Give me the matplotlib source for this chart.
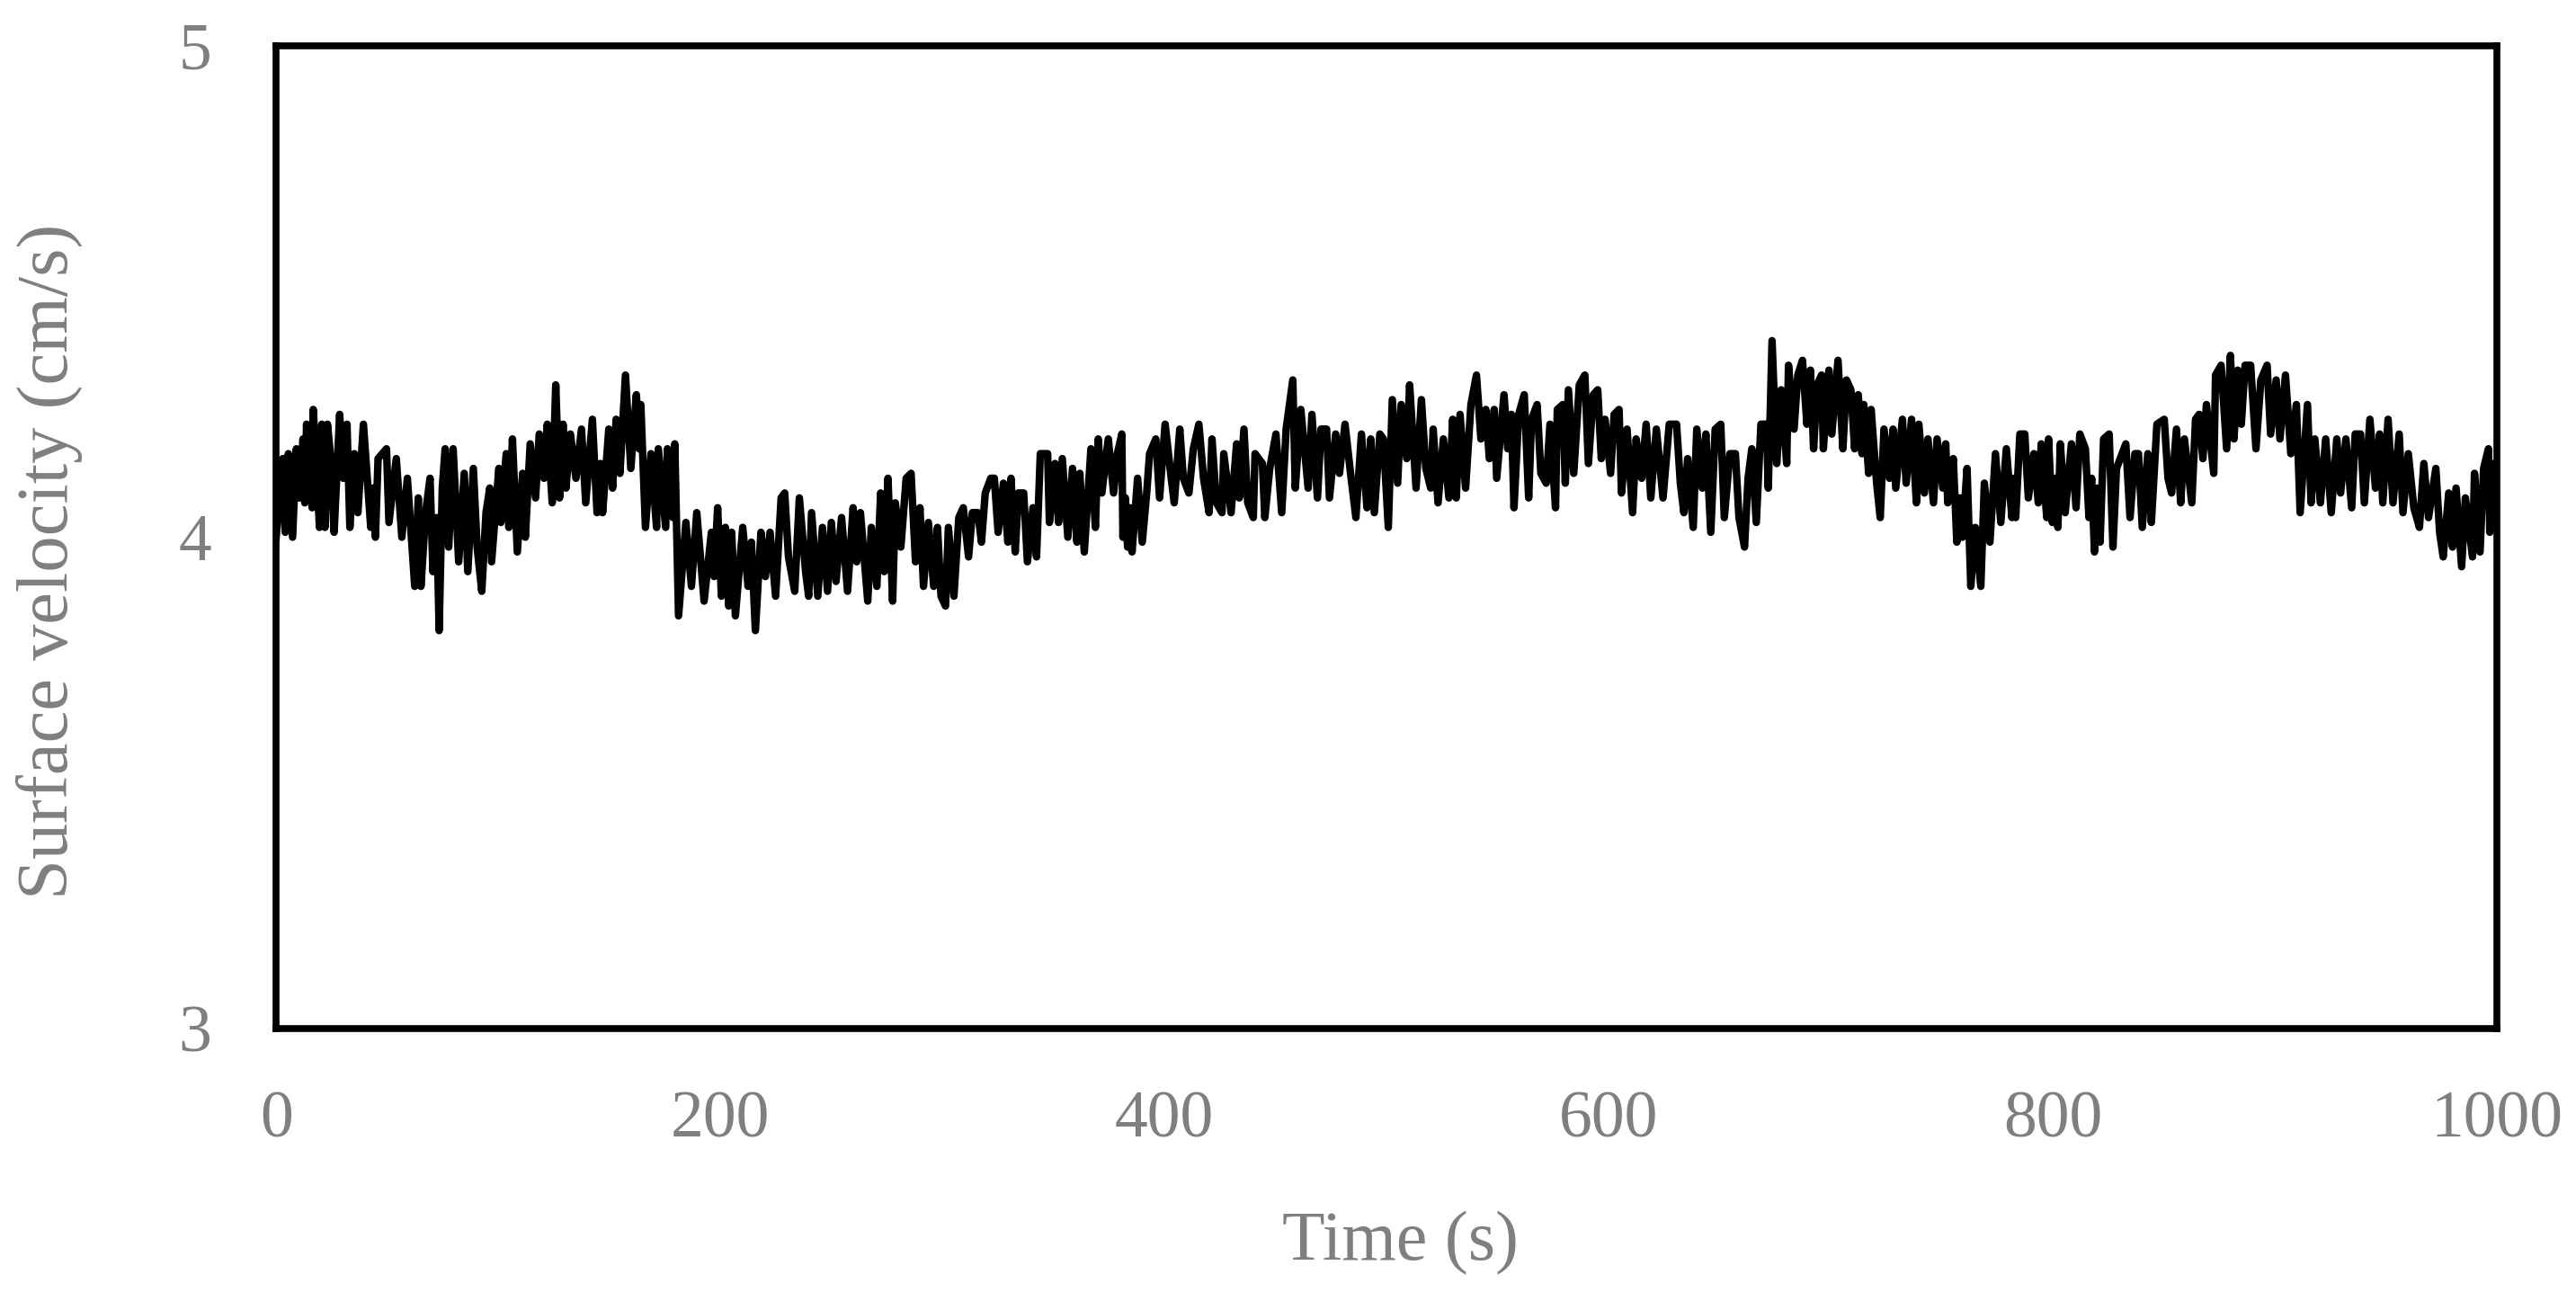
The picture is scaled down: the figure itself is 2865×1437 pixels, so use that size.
import matplotlib
matplotlib.use("Agg")
import matplotlib.pyplot as plt
import numpy as np

# ── Data: surface velocity record in four segments ───────────────────────────
time_a = [0, 3, 4.1, 5.5, 7.4, 9.1, 10.4, 12.1, 12.9, 13.7, 16.2, 16.7, 18.3, 19.5,
          20.6, 22, 23.1, 24.4, 26.1, 28.6, 30.2, 31.9, 33.2, 35.2, 36.8, 39.3, 42.6,
          43.6, 44.7, 45.9, 49.7, 50.8, 54.1, 56.6, 59.1, 62.4, 64, 65.2, 67.3, 69.3,
          70.6, 72.3, 73.4, 74.8, 76.1, 77.7, 79.7, 82.2, 84.7, 86.3, 88.8, 90.5, 92.6,
          94.5, 96.2, 97, 100.3, 101.2, 103.6, 104.8, 106.4, 108.6, 111, 112.2, 114.4,
          116.8, 118.5, 120.6, 122.1, 124.3, 125.9, 127.6, 129.2, 130.5, 132.5, 135,
          137.5, 139.4, 142.4, 144.5, 146, 147, 149.8, 151.5, 153.1, 154.8, 157.3, 159.7,
          162.2, 163.5, 164.2, 166.3, 168.8, 171.3, 172.1, 175.4, 176.2, 178.7, 179.5,
          181.2, 184.5, 187, 189.4, 192.7, 196, 197.2, 198.8, 200.5, 202.3, 203.8, 205.1,
          206.8, 210.1, 212.5, 214, 215.8, 218.3, 220.3, 222.4, 224.9, 227.4, 229, 230.7,
          233.5, 235.6, 238.4, 239.8, 241.1, 243.9, 246, 248.3, 250, 252.1, 254.6]
vel_a = [4.00, 4.16, 4.01, 4.17, 4.00, 4.18, 4.08, 4.20, 4.07, 4.23, 4.06, 4.26, 4.13, 4.02,
         4.23, 4.02, 4.23, 4.17, 4.01, 4.25, 4.12, 4.23, 4.02, 4.17, 4.05, 4.23, 4.02,
         4.10, 4.00, 4.16, 4.18, 4.03, 4.16, 4.00, 4.12, 3.90, 4.08, 3.90, 4.05, 4.12,
         3.93, 4.04, 3.81, 4.10, 4.18, 3.98, 4.18, 3.95, 4.13, 3.93, 4.14, 3.98, 3.89,
         4.05, 4.10, 3.95, 4.14, 4.03, 4.17, 4.02, 4.20, 3.97, 4.13, 4.00, 4.19,
         4.08, 4.21, 4.12, 4.23, 4.07, 4.31, 4.08, 4.23, 4.10, 4.21, 4.12,
         4.22, 4.07, 4.24, 4.05, 4.15, 4.05, 4.22, 4.10, 4.24, 4.13, 4.33, 4.14,
         4.29, 4.18, 4.27, 4.02, 4.17, 4.02, 4.18, 4.02, 4.18, 4.04, 4.19,
         3.84, 4.03, 3.90, 4.05, 3.87, 4.01, 3.92, 4.06, 3.88, 4.02, 3.86, 4.01,
         3.84, 4.02, 3.90, 3.99, 3.81, 4.01, 3.92, 4.01, 3.88, 4.08, 4.09, 3.96,
         3.89, 4.08, 3.93, 3.88, 4.05, 3.88, 4.02, 3.89, 4.03, 3.91, 4.04]

time_b = [257.3, 259.8, 261.4, 263.1, 266.4, 268, 270.5, 272.2, 273.8, 275.5, 277.6, 278.8,
          281.3, 283.7, 285.9, 287.9, 289.9, 291.5, 293.7, 296.1, 297.8, 299.4, 301.4,
          302.7, 305.2, 307.4, 309.4, 311.8, 313.5, 316, 317.6, 319.3, 321.8, 323.4,
          325.1, 327.5, 329.5, 330.9, 332.8, 334.2, 336.6, 338.3, 340.8, 342.4, 344.1,
          347.4, 348.2, 350.7, 352.3, 354, 356.5, 358.6, 360.6, 361.9, 363.9, 366.9,
          368.9, 370.2, 371.8, 374.7, 377.1, 378.8, 380.8, 381.3, 382.4, 383.4, 384.4,
          385.4, 387.9, 390, 392, 393.3, 396.1, 397.8, 400.3, 402.8, 404.4, 406.9, 408.5,
          411, 413, 415.5, 417.6, 420.1, 421.4, 423.4, 425.9, 426.7, 430, 432.5, 433.7,
          435.8, 437.5, 440, 440.8, 444.1, 445.2, 447.4, 450.2, 452.8, 454.8, 457.8,
          458.9, 461.4, 464.7, 466.4, 468.9, 470.5, 473, 474.3, 477.1, 478.8, 481.3,
          483.8, 486.2, 488.7, 491.2, 492.9, 494.5, 497, 498.6, 500.8]
vel_b = [3.89, 4.06, 3.95, 4.05, 3.87, 4.02, 3.90, 4.09, 3.93, 4.12, 3.87, 4.07,
         3.98, 4.12, 4.13, 3.95, 4.06, 3.90, 4.03, 3.90, 4.02, 3.88, 3.86,
         4.02, 3.88, 4.04, 4.06, 3.96, 4.05, 4.05, 3.99, 4.09, 4.12, 4.12,
         4.01, 4.11, 3.99, 4.12, 3.97, 4.09, 4.09, 3.95, 4.06, 3.96, 4.17,
         4.17, 4.03, 4.15, 4.03, 4.16, 4.00, 4.14, 3.99, 4.13, 3.97, 4.18,
         4.02, 4.20, 4.09, 4.20, 4.09, 4.17, 4.21, 4.00, 4.08, 3.98, 4.06,
         3.97, 4.12, 3.99, 4.09, 4.17, 4.20, 4.08, 4.23, 4.13, 4.07, 4.22, 4.12,
         4.09, 4.18, 4.23, 4.12, 4.05, 4.20, 4.07, 4.05, 4.17, 4.05, 4.19, 4.08,
         4.22, 4.07, 4.04, 4.17, 4.15, 4.04, 4.14, 4.21, 4.05, 4.22, 4.32,
         4.10, 4.26, 4.10, 4.25, 4.08, 4.22, 4.22, 4.08, 4.21, 4.13, 4.23,
         4.13, 4.04, 4.21, 4.06, 4.20, 4.05, 4.21, 4.20, 4.02]

time_c = [502.6, 505, 506.6, 509.1, 510.4, 513.3, 515.7, 517.7, 519.9, 521, 523.2, 525.6,
          528.1, 529.8, 531.4, 533.1, 535.6, 538, 540.5, 542.5, 544.7, 546.3, 548.5,
          549.6, 552.9, 554.6, 556.2, 557.4, 559.5, 562, 564, 565.3, 567.8, 569.5, 571.9,
          573.6, 576.1, 576.9, 579.4, 580.5, 581.9, 584.3, 586.8, 589.3, 590.9, 593.1,
          595.1, 596.7, 598.4, 600.9, 602.5, 604.7, 605.8, 608.3, 610.8, 612.4, 614.9,
          616.9, 619, 621.5, 624.5, 627.3, 630.6, 632.3, 633.9, 635.6, 638.1, 639.7,
          642.2, 643.8, 646, 648, 650.5, 652.1, 654.6, 657.1, 658.7, 661.2, 662.8, 664.5,
          666.5, 668.6, 671.1, 671.9, 673.6, 675.7, 677.7, 680.2, 681, 683.5, 685.2,
          687.3, 689.3, 690.9, 692.3, 693.9, 695.9, 696.7, 699.2, 700.5, 703.3, 705.5,
          707.1, 709.1, 710.8, 712.4, 714.1, 714.9, 717.1, 718.2, 720.7, 722.3, 724,
          726.5, 728.1, 729.3, 732.3, 734, 736.4, 738.6, 739.7, 742.2, 743.8, 746.3,
          747.9, 750.5]
vel_c = [4.28, 4.11, 4.27, 4.16, 4.31, 4.10, 4.28, 4.14, 4.10, 4.22, 4.07, 4.20,
         4.08, 4.24, 4.08, 4.25, 4.10, 4.27, 4.33, 4.20, 4.26, 4.16, 4.26,
         4.12, 4.29, 4.18, 4.25, 4.06, 4.25, 4.29, 4.08, 4.24, 4.27, 4.13, 4.11,
         4.23, 4.06, 4.26, 4.27, 4.11, 4.30, 4.13, 4.31, 4.33, 4.15, 4.29,
         4.30, 4.16, 4.24, 4.13, 4.25, 4.26, 4.09, 4.22, 4.05, 4.20, 4.12,
         4.23, 4.08, 4.22, 4.08, 4.23, 4.23, 4.11, 4.05, 4.16, 4.02, 4.22,
         4.10, 4.21, 4.01, 4.22, 4.23, 4.04, 4.17, 4.17, 4.04, 3.98, 4.12, 4.18,
         4.03, 4.23, 4.23, 4.10, 4.40, 4.15, 4.30, 4.15, 4.35, 4.22, 4.33,
         4.36, 4.23, 4.34, 4.18, 4.31, 4.33, 4.18, 4.34, 4.21, 4.36, 4.18,
         4.32, 4.30, 4.18, 4.29, 4.17, 4.27, 4.13, 4.26, 4.11, 4.04, 4.22,
         4.12, 4.22, 4.10, 4.24, 4.11, 4.24, 4.07, 4.23, 4.09, 4.20, 4.07,
         4.20, 4.10]

time_d = [751.8, 752.7, 755.2, 756.8, 758, 759.3, 761.4, 763.1, 765.1, 767.6, 769.2, 771.7,
          774.2, 776.6, 779.1, 781.6, 782.5, 783.3, 785.2, 787.4, 789, 791.5, 793.5,
          794.8, 797.3, 798.1, 799.8, 801, 802.3, 803.4, 805.6, 808.4, 810.5, 812.2,
          814.7, 816.3, 817.5, 818.8, 820, 821.3, 822.9, 825.4, 827.1, 828.7, 831.2,
          832.9, 834.8, 837, 838.6, 840.3, 842.8, 844.4, 846.9, 850.2, 851.9, 853.5,
          855.7, 857.6, 859.3, 862.6, 864.3, 865.9, 867.6, 869.2, 872.5, 873.3, 875.8,
          878.3, 880, 881.6, 883.3, 884.9, 886.6, 889.1, 891.5, 893.7, 896.5, 898.1,
          900.6, 902.3, 904.8, 907.2, 909.7, 911.4, 914.7, 916.3, 918, 920.5, 922.9,
          925.4, 927.9, 929.6, 932, 934.6, 936.2, 938.6, 940.3, 942.8, 945.3, 947.2,
          948.6, 951, 953.2, 956, 957.7, 960.1, 962.6, 965.1, 967.1, 969.2, 972.5,
          974.2, 975.8, 978.3, 980, 981.6, 984.1, 985.8, 989, 989.9, 992.4, 994, 996.2,
          996.8, 998.5, 1000]
vel_d = [4.19, 4.07, 4.16, 3.99, 4.08, 4.00, 4.14, 3.90, 4.02, 3.90, 4.11, 3.99,
         4.17, 4.03, 4.18, 4.04, 4.12, 4.04, 4.21, 4.21, 4.08, 4.17, 4.07,
         4.19, 4.04, 4.20, 4.03, 4.12, 4.02, 4.19, 4.05, 4.19, 4.06, 4.21,
         4.18, 4.04, 4.12, 3.97, 4.10, 3.99, 4.20, 4.21, 3.98, 4.14, 4.17,
         4.19, 4.04, 4.17, 4.17, 4.02, 4.17, 4.03, 4.23, 4.24, 4.12, 4.09,
         4.22, 4.07, 4.20, 4.07, 4.24, 4.25, 4.16, 4.27, 4.13, 4.33, 4.35,
         4.18, 4.37, 4.20, 4.34, 4.23, 4.35, 4.35, 4.18, 4.32, 4.35, 4.21,
         4.32, 4.20, 4.33, 4.17, 4.27, 4.05, 4.27, 4.07, 4.20, 4.07, 4.20,
         4.05, 4.20, 4.09, 4.20, 4.06, 4.21, 4.21, 4.07, 4.24, 4.10, 4.21,
         4.07, 4.24, 4.07, 4.21, 4.05, 4.17, 4.06, 4.02, 4.15, 4.04, 4.14,
         4.01, 3.96, 4.09, 3.98, 4.10, 3.94, 4.08, 3.96, 4.13, 3.97, 4.14, 4.18,
         4.01, 4.15, 4.03]

time_s = np.concatenate([time_a, time_b, time_c, time_d])
velocity = np.concatenate([vel_a, vel_b, vel_c, vel_d])

x_ticks = [0, 200, 400, 600, 800, 1000]
y_ticks = [3, 4, 5]

TEXT_GREY = "#7f7f7f"
FONT = "Liberation Serif"

# ── Figure ────────────────────────────────────────────────────────────────────
fig = plt.figure(figsize=(28.65, 14.37), dpi=100)
ax = fig.add_axes([0.1072, 0.2039, 0.8621, 0.7606])

ax.plot(time_s, velocity, color="black", linewidth=6, solid_joinstyle="round", zorder=3)

ax.set_xlim(0, 1000)
ax.set_ylim(3, 5)
ax.set_xticks(x_ticks)
ax.set_yticks(y_ticks)

for side in ["top", "bottom", "left", "right"]:
    ax.spines[side].set_linewidth(5.5)
    ax.spines[side].set_color("black")
    ax.spines[side].set_zorder(4)

ax.tick_params(axis="both", length=0, labelsize=53, labelcolor=TEXT_GREY)
ax.tick_params(axis="y", pad=52)
ax.tick_params(axis="x", pad=50)
for lab in ax.get_xticklabels() + ax.get_yticklabels():
    lab.set_fontfamily(FONT)

fig.text(0.5435, 0.0376, "Time (s)", ha="center", va="center",
         fontsize=56, color=TEXT_GREY, family=FONT)
fig.text(0.0192, 0.5658, "Surface velocity (cm/s)", ha="center", va="center",
         rotation=90, fontsize=58, color=TEXT_GREY, family=FONT)

fig.savefig("out.png", dpi=100, facecolor="white")
plt.close(fig)
